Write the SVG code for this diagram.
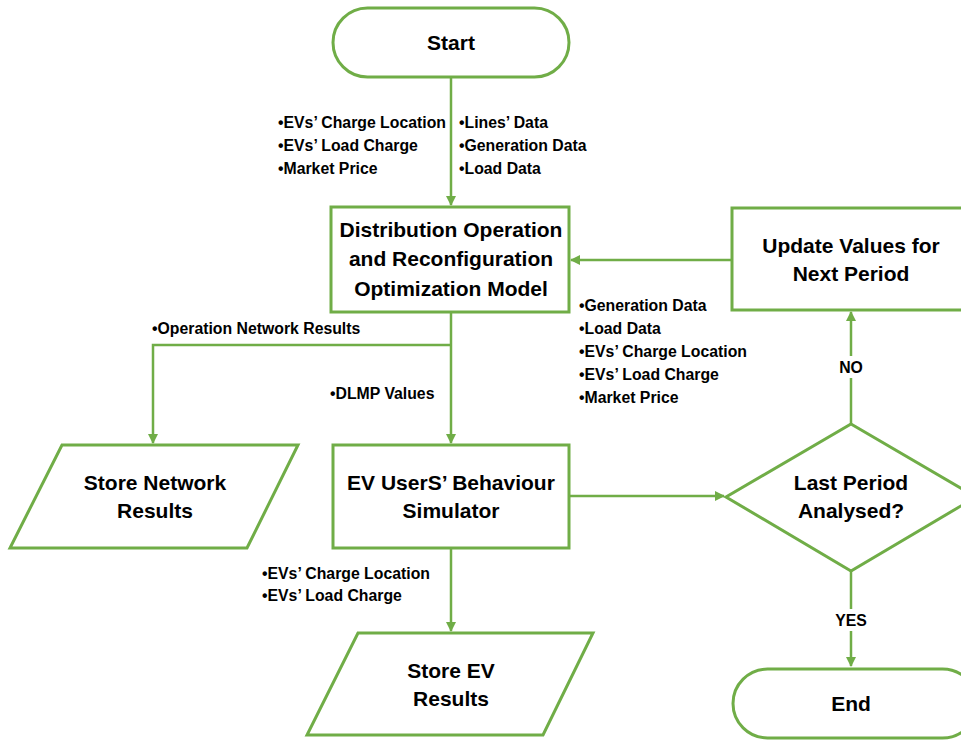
<svg xmlns="http://www.w3.org/2000/svg" width="961" height="740" viewBox="0 0 961 740">
<defs>
<marker id="arr" markerWidth="10" markerHeight="10" refX="9" refY="5" orient="auto" markerUnits="userSpaceOnUse"><path d="M0,0 L10,5 L0,10 Z" fill="#70AD47"/></marker>
<style>
.shape{fill:#fff;stroke:#70AD47;stroke-width:3}
.line{fill:none;stroke:#70AD47;stroke-width:2.5}
.t{font-family:"Liberation Sans",Arial,sans-serif;font-weight:bold;font-size:21px;fill:#000;text-anchor:middle}
.s{font-family:"Liberation Sans",Arial,sans-serif;font-weight:bold;font-size:15.8px;fill:#000}
</style>
</defs>
<rect width="961" height="740" fill="#fff"/>
<g id="connectors">
<line class="line" x1="451" y1="77" x2="451" y2="205" marker-end="url(#arr)"/>
<line class="line" x1="732" y1="260" x2="571" y2="260" marker-end="url(#arr)"/>
<polyline class="line" points="451,312 451,443" marker-end="url(#arr)"/>
<polyline class="line" points="451,345 153,345 153,443" marker-end="url(#arr)"/>
<line class="line" x1="569" y1="496" x2="724" y2="496" marker-end="url(#arr)"/>
<line class="line" x1="451" y1="548" x2="451" y2="631" marker-end="url(#arr)"/>
<line class="line" x1="851" y1="424" x2="851" y2="312" marker-end="url(#arr)"/>
<line class="line" x1="851" y1="571" x2="851" y2="666" marker-end="url(#arr)"/>
<rect x="833" y="356" width="36" height="22" fill="#fff"/>
<text class="s" x="851" y="373" text-anchor="middle">NO</text>
<rect x="830" y="609" width="42" height="22" fill="#fff"/>
<text class="s" x="851" y="626" text-anchor="middle">YES</text>
<text class="s" x="278" y="128">•EVs’ Charge Location</text>
<text class="s" x="278" y="151">•EVs’ Load Charge</text>
<text class="s" x="278" y="174">•Market Price</text>
<text class="s" x="459" y="128">•Lines’ Data</text>
<text class="s" x="459" y="151">•Generation Data</text>
<text class="s" x="459" y="174">•Load Data</text>
<text class="s" x="579" y="311">•Generation Data</text>
<text class="s" x="579" y="334">•Load Data</text>
<text class="s" x="579" y="357">•EVs’ Charge Location</text>
<text class="s" x="579" y="380">•EVs’ Load Charge</text>
<text class="s" x="579" y="403">•Market Price</text>
<text class="s" x="152" y="334">•Operation Network Results</text>
<text class="s" x="330" y="399">•DLMP Values</text>
<text class="s" x="262" y="579">•EVs’ Charge Location</text>
<text class="s" x="262" y="601">•EVs’ Load Charge</text>
</g>
<g id="start">
<rect class="shape" x="333" y="8" width="236" height="69" rx="34.5"/>
<text class="t" x="451" y="50">Start</text>
</g>
<g id="distribution">
<rect class="shape" x="331" y="207" width="238" height="105"/>
<text class="t" x="451" y="237">Distribution Operation</text>
<text class="t" x="451" y="266">and Reconfiguration</text>
<text class="t" x="451" y="296">Optimization Model</text>
</g>
<g id="update">
<rect class="shape" x="732" y="208" width="240" height="102"/>
<text class="t" x="851" y="253">Update Values for</text>
<text class="t" x="851" y="281">Next Period</text>
</g>
<g id="store-network">
<polygon class="shape" points="62,445 298,445 247,548 10,548"/>
<text class="t" x="155" y="490">Store Network</text>
<text class="t" x="155" y="518">Results</text>
</g>
<g id="ev-simulator">
<rect class="shape" x="333" y="445" width="236" height="103"/>
<text class="t" x="451" y="490">EV UserS’ Behaviour</text>
<text class="t" x="451" y="518">Simulator</text>
</g>
<g id="decision">
<polygon class="shape" points="851,424 976,497 851,571 726,497"/>
<text class="t" x="851" y="490">Last Period</text>
<text class="t" x="851" y="518">Analysed?</text>
</g>
<g id="store-ev">
<polygon class="shape" points="358,633 593,633 543,735 307,735"/>
<text class="t" x="451" y="678">Store EV</text>
<text class="t" x="451" y="706">Results</text>
</g>
<g id="end">
<rect class="shape" x="733" y="669" width="244" height="69" rx="34.5"/>
<text class="t" x="851" y="711">End</text>
</g>
</svg>
